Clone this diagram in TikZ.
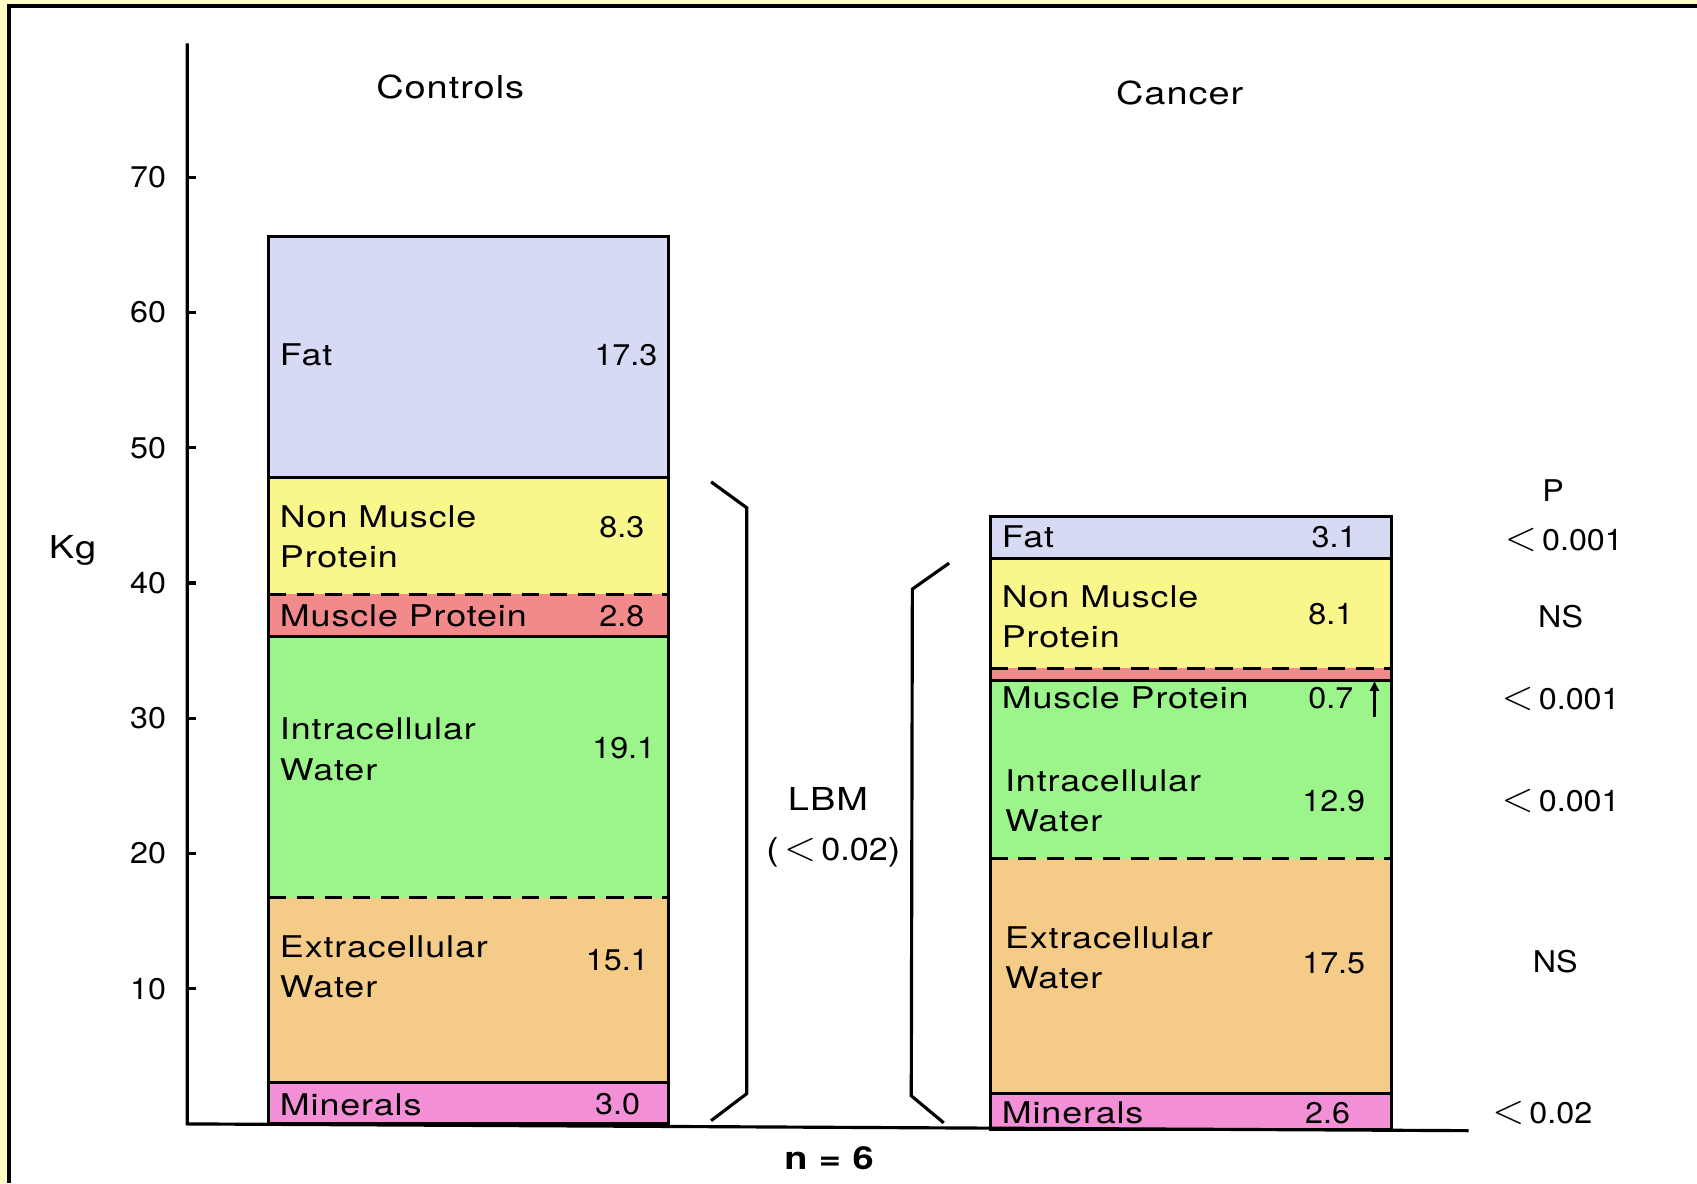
\documentclass[tikz,border=0pt]{standalone}
\usepackage{fontspec}
\setmainfont{TeX Gyre Heros}[FakeStretch=1.2, LetterSpace=3]
\newfontfamily\numfont{TeX Gyre Heros}[FakeStretch=1.08]
\usetikzlibrary{arrows.meta}

\definecolor{fatc}{HTML}{D6DAF4}
\definecolor{nmpc}{HTML}{F9F68C}
\definecolor{mpc}{HTML}{F28A8C}
\definecolor{icwc}{HTML}{9CF58A}
\definecolor{ecwc}{HTML}{F5CB88}
\definecolor{minc}{HTML}{F28FD6}
\definecolor{framec}{HTML}{FFFCC4}

\newcommand{\lessthan}{{\fontsize{12}{12}\selectfont$<$}}

\tikzset{
  thick line/.style={line width=0.9pt},
  divdash/.style={line width=0.9pt, dash pattern=on 5pt off 3pt},
  lbl/.style={anchor=west, align=left, inner sep=0pt, font=\fontsize{8.5}{11.5}\selectfont},
  val/.style={anchor=east, inner sep=0pt, font=\numfont\fontsize{8.5}{11.5}\selectfont},
  pval/.style={inner sep=0pt, font=\numfont\fontsize{8.5}{11}\selectfont},
  ticklbl/.style={anchor=east, inner sep=0pt, font=\numfont\fontsize{8.5}{11}\selectfont},
  title/.style={inner sep=0pt, font=\fontsize{9}{11}\selectfont},
}

\begin{document}
\begin{tikzpicture}[x=0.010823cm, y=0.13518cm]
    \useasboundingbox (0,-4.404) rectangle (1568,83.11);
    % Frame
    \fill[framec] (0,-4.404) rectangle (1568,83.11);
    \fill[white] (8.3,-4.404) rectangle (1568,82.67);
    \draw[line width=1pt] (8.3,-4.404) -- (8.3,82.67) -- (1568,82.67);

    % Controls bar
    \foreach \lo/\hi/\c in {0/3.04/minc, 3.04/16.73/ecwc, 16.73/36.03/icwc,
        36.03/39.15/mpc, 39.15/47.8/nmpc, 47.8/65.65/fatc}
        \fill[\c] (248,\lo) rectangle (618,\hi);
    \foreach \y in {3.04,36.03,47.8} \draw[thick line] (248,\y) -- (618,\y);
    \foreach \y in {16.73,39.15} \draw[divdash] (248,\y) -- (618,\y);
    \draw[thick line] (248,0) rectangle (618,65.65);

    % Cancer bar
    \foreach \lo/\hi/\c in {-0.4/2.24/minc, 2.24/19.6/ecwc, 19.6/32.8/icwc,
        32.8/33.7/mpc, 33.7/41.8/nmpc, 41.8/44.9/fatc}
        \fill[\c] (915,\lo) rectangle (1286,\hi);
    \foreach \y in {2.24,32.8,41.8} \draw[thick line] (915,\y) -- (1286,\y);
    \foreach \y in {19.6,33.7} \draw[divdash] (915,\y) -- (1286,\y);
    \draw[thick line] (915,-0.4) rectangle (1286,44.9);

    % Axes
    \draw[thick line] (173,79.9) -- (173,0) -- (1357,-0.5);
    \foreach \k in {10,20,...,70} {
        \draw[thick line] (173,\k) -- (181,\k);
        \node[ticklbl] (tick\k) at (154,\k) {\k};
    }
    \node[title] (kg) at (67,42.4) {Kg};
    \node[title] (controls) at (416,76.7) {Controls};
    \node[title] (cancer) at (1090,76.2) {Cancer};

    % Controls labels
    \node[lbl] (cfat) at (258,56.85) {Fat};
    \node[val] (cfatv) at (608,56.85) {17.3};
    \node[lbl] (cnmp) at (258,43.4) {Non Muscle\\Protein};
    \node[val] (cnmpv) at (596,44.1) {8.3};
    \node[lbl] (cmp) at (258,37.55) {Muscle Protein};
    \node[val] (cmpv) at (596,37.55) {2.8};
    \node[lbl] (cicw) at (258,27.7) {Intracellular\\Water};
    \node[val] (cicwv) at (606,27.8) {19.1};
    \node[lbl] (cecw) at (258,11.6) {Extracellular\\Water};
    \node[val] (cecwv) at (600,12.1) {15.1};
    \node[lbl] (cmin) at (258,1.44) {Minerals};
    \node[val] (cminv) at (592,1.44) {3.0};

    % Cancer labels
    \node[lbl] (kfat) at (925,43.4) {Fat};
    \node[val] (kfatv) at (1254,43.4) {3.1};
    \node[lbl] (knmp) at (925,37.5) {Non Muscle\\Protein};
    \node[val] (knmpv) at (1251,37.7) {8.1};
    \node[lbl] (kmp) at (925,31.5) {Muscle Protein};
    \node[val] (kmpv) at (1251,31.5) {0.7};
    \node[lbl] (kicw) at (928,23.9) {Intracellular\\Water};
    \node[val] (kicwv) at (1262,23.9) {12.9};
    \node[lbl] (kecw) at (928,12.3) {Extracellular\\Water};
    \node[val] (kecwv) at (1262,11.9) {17.5};
    \node[lbl] (kmin) at (925,0.8) {Minerals};
    \node[val] (kminv) at (1248,0.8) {2.6};
    \coordinate (mpfoot) at (1270,30.1);
    \coordinate (mptip) at (1270,32.8);
    \draw[thick line, -{Latex[length=3pt,width=3pt]}] (mpfoot) -- (mptip);

    % LBM brackets
    \draw[thick line] (657,47.48) -- (690,45.56) -- (690,2.24) -- (657,0.24);
    \draw[thick line] (877,41.47) -- (843,39.55) -- (842,2.08) -- (872,0.08);
    \node[title] (lbm) at (765,24.0) {LBM};
    \node[title] (lbmp) at (770,20.1) {(\,\lessthan\,{\numfont 0.02})};

    % P values
    \node[pval] (phead) at (1435,46.8) {P};
    \node[pval] (pfat) at (1445,43.2) {\lessthan\,0.001};
    \node[pval] (pnmp) at (1442,37.5) {NS};
    \node[pval] (pmp) at (1442,31.4) {\lessthan\,0.001};
    \node[pval] (picw) at (1442,23.9) {\lessthan\,0.001};
    \node[pval] (pecw) at (1437,12.0) {NS};
    \node[pval] (pmin) at (1425,0.8) {\lessthan\,0.02};

    \node[title, font=\fontsize{9}{11}\selectfont\bfseries] (n) at (766,-2.5) {n = 6};
\end{tikzpicture}
\end{document}
